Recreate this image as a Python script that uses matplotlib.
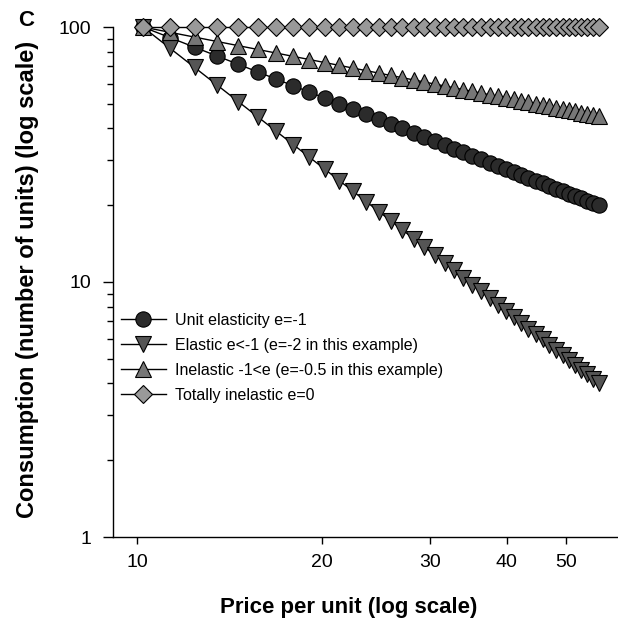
import matplotlib
matplotlib.use("Agg")
import matplotlib.pyplot as plt
from matplotlib.ticker import FixedLocator, NullFormatter, NullLocator

price = list(range(10, 51))
unit_elastic = [100, 90.91, 83.33, 76.92, 71.43, 66.67, 62.5, 58.82, 55.56, 52.63,
                50, 47.62, 45.45, 43.48, 41.67, 40, 38.46, 37.04, 35.71, 34.48,
                33.33, 32.26, 31.25, 30.30, 29.41, 28.57, 27.78, 27.03, 26.32, 25.64,
                25, 24.39, 23.81, 23.26, 22.73, 22.22, 21.74, 21.28, 20.83, 20.41, 20]
elastic = [100, 82.64, 69.44, 59.17, 51.02, 44.44, 39.06, 34.60, 30.86, 27.70,
           25, 22.68, 20.66, 18.90, 17.36, 16, 14.79, 13.72, 12.76, 11.89,
           11.11, 10.41, 9.77, 9.18, 8.65, 8.16, 7.72, 7.30, 6.93, 6.57,
           6.25, 5.95, 5.67, 5.41, 5.17, 4.94, 4.73, 4.53, 4.34, 4.16, 4]
inelastic = [100, 95.35, 91.29, 87.71, 84.52, 81.65, 79.06, 76.70, 74.54, 72.55,
             70.71, 69.01, 67.42, 65.94, 64.55, 63.25, 62.02, 60.86, 59.76, 58.72,
             57.74, 56.80, 55.90, 55.05, 54.23, 53.45, 52.70, 51.99, 51.30, 50.64,
             50, 49.39, 48.80, 48.22, 47.67, 47.14, 46.63, 46.13, 45.64, 45.18, 44.72]
total_inelastic = [100] * 41

labels = ["Unit elasticity e=-1",
          "Elastic e<-1 (e=-2 in this example)",
          "Inelastic -1<e (e=-0.5 in this example)",
          "Totally inelastic e=0"]
x_ticks = [10, 20, 30, 40, 50]
y_ticks = [1, 10, 100]

plt.rcParams['font.family'] = ['Liberation Sans', 'DejaVu Sans']

W, H = 618, 627
fig = plt.figure(figsize=(W / 100, H / 100), dpi=100)
rect = [113 / W, 1 - 537 / H, (617 - 113) / W, (537 - 27) / H]
ax = fig.add_axes(rect)
ax.set_xscale('log')
ax.set_yscale('log')
ax.set_xlim(9.13, 60.5)
ax.set_ylim(1, 100)

# data layer (the original figure's markers sit on a slightly different x scale than its ticks)
dax = fig.add_axes(rect, sharey=ax)
dax.patch.set_visible(False)
dax.set_xscale('log')
dax.set_xlim(9.0, 53.3)
dax.axis('off')

lw = 1.0
h1, = dax.plot(price, unit_elastic, '-', color='black', lw=lw, marker='o', ms=11,
               mfc='#2b2b2b', mec='black', mew=0.8, label=labels[0])
h2, = dax.plot(price, elastic, '-', color='black', lw=lw, marker='v', ms=11.5,
               mfc='#555555', mec='black', mew=0.8, label=labels[1])
h3, = dax.plot(price, inelastic, '-', color='black', lw=lw, marker='^', ms=11.5,
               mfc='#777777', mec='black', mew=0.8, label=labels[2])
h4, = dax.plot(price, total_inelastic, '-', color='black', lw=lw, marker='D', ms=9.5,
               mfc='#999999', mec='black', mew=0.8, label=labels[3])
for h in (h1, h2, h3, h4):
    h.set_clip_on(False)

for s in ['top', 'right']:
    ax.spines[s].set_visible(False)
ax.spines['left'].set_linewidth(1.0)
ax.spines['bottom'].set_linewidth(1.0)

ax.xaxis.set_major_locator(FixedLocator(x_ticks))
ax.xaxis.set_minor_locator(NullLocator())
ax.set_xticklabels([str(v) for v in x_ticks])
ax.xaxis.set_minor_formatter(NullFormatter())
ax.yaxis.set_major_locator(FixedLocator(y_ticks))
ax.set_yticklabels([str(v) for v in y_ticks])
ax.yaxis.set_minor_formatter(NullFormatter())
ax.tick_params(axis='x', which='major', length=5, width=1, labelsize=14, pad=7)
ax.tick_params(axis='y', which='major', length=7.5, width=1, labelsize=14, pad=8)
ax.tick_params(axis='y', which='minor', length=4, width=1)

ax.set_xlabel("Price per unit (log scale)", fontsize=16, fontweight='bold')
ax.set_ylabel("Consumption (number of units) (log scale)", fontsize=17.0,
              fontweight='bold')
ax.xaxis.set_label_coords((349 - 113) / (617 - 113), -(597 - 537) / (537 - 27))
ax.yaxis.set_label_coords(-(113 - 39) / (617 - 113), (537 - 279) / (537 - 27))

fig.text(26 / W, 1 - 20 / H, "C", fontsize=16, fontweight='bold', ha='center', va='center')

leg = dax.legend(handles=[h1, h2, h3, h4], loc='upper left',
                 bbox_to_anchor=(121 / W, 1 - 313 / H), bbox_transform=fig.transFigure,
                 frameon=False, fontsize=11.5, handlelength=2.8, handletextpad=0.6,
                 labelspacing=0.62, borderpad=0, borderaxespad=0, markerscale=1.0)

fig.savefig("out.png", dpi=100)
